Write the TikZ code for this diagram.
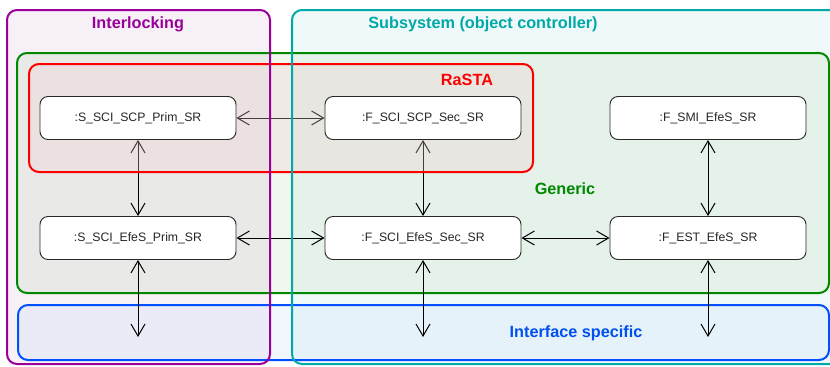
\documentclass[tikz,border=0pt]{standalone}
\usepackage{fontspec}
\setmainfont{Liberation Sans}
\usetikzlibrary{arrows.meta}

\definecolor{ilkline}{RGB}{153,0,153}
\definecolor{ilkfill}{RGB}{247,240,247}
\definecolor{subline}{RGB}{0,168,168}
\definecolor{subfill}{RGB}{240,249,249}
\definecolor{genline}{RGB}{0,136,0}
\definecolor{genfill}{RGB}{180,214,174}
\definecolor{rasline}{RGB}{255,0,0}
\definecolor{rasfill}{RGB}{238,205,207}
\definecolor{ifcline}{RGB}{0,80,255}
\definecolor{ifcfill}{RGB}{190,214,249}
\definecolor{ifctext}{RGB}{0,80,239}
\definecolor{nodeline}{RGB}{40,40,40}

\pgfdeclarelayer{fills}
\pgfdeclarelayer{links}
\pgfdeclarelayer{tint}
\pgfdeclarelayer{frames}
\pgfsetlayers{fills,links,tint,frames,main}

\tikzset{
  srbox/.style={draw=nodeline, line width=0.9bp, fill=white, rounded corners=8bp,
    minimum width=196bp, minimum height=43bp, inner sep=0pt,
    font=\fontsize{12.3}{14}\selectfont, text=black!85},
  frame/.style={line width=2bp, rounded corners=10bp},
  grouplabel/.style={font=\fontsize{16.3}{18}\selectfont\bfseries, inner sep=0pt},
  link/.style={line width=1bp, {Straight Barb[length=12bp,width=14bp]}-{Straight Barb[length=12bp,width=14bp]}}
}

\begin{document}
\begin{tikzpicture}[x=1bp,y=-1bp]
\useasboundingbox (0,0) rectangle (830,366);

% outer areas
\begin{pgfonlayer}{fills}
  \fill[ilkfill, rounded corners=10bp] (7,10) rectangle (270,364);
  \fill[subfill, rounded corners=10bp] (292,10) rectangle (845,364);
  \draw[frame, draw=genline, fill=genfill, fill opacity=0.2] (17,53) rectangle (829,293);
  \draw[frame, draw=ifcline, fill=ifcfill, fill opacity=0.2] (18,305) rectangle (829,360);
\end{pgfonlayer}

% RaSTA area on top of the links
\begin{pgfonlayer}{tint}
  \draw[frame, draw=rasline, fill=rasfill, fill opacity=0.3] (29,64) rectangle (533,172);
\end{pgfonlayer}

% outer frames
\begin{pgfonlayer}{frames}
  \draw[frame, draw=ilkline] (7,10) rectangle (270,364);
  \draw[frame, draw=subline] (292,10) rectangle (845,364);
\end{pgfonlayer}

% group labels
\node[grouplabel, text=ilkline] (lilk) at (138,24) {Interlocking};
\node[grouplabel, text=subline] (lsub) at (483,24) {Subsystem (object controller)};
\node[grouplabel, text=rasline] (lras) at (467,80) {RaSTA};
\node[grouplabel, text=genline] (lgen) at (565,189) {Generic};
\node[grouplabel, text=ifctext] (lifc) at (576,333) {Interface specific};

% state machines
\node[srbox] (n1) at (138,118) {:S\_SCI\_SCP\_Prim\_SR};
\node[srbox] (n2) at (423,118) {:F\_SCI\_SCP\_Sec\_SR};
\node[srbox] (n3) at (708,118) {:F\_SMI\_EfeS\_SR};
\node[srbox] (n4) at (138,238) {:S\_SCI\_EfeS\_Prim\_SR};
\node[srbox] (n5) at (423,238) {:F\_SCI\_EfeS\_Sec\_SR};
\node[srbox] (n6) at (708,238) {:F\_EST\_EfeS\_SR};

\coordinate (i4) at (138,337);
\coordinate (i5) at (423,337);
\coordinate (i6) at (708,337);

\begin{pgfonlayer}{links}
  \draw[link] (n1.east) -- (n2.west);
  \draw[link] (n1.south) -- (n4.north);
  \draw[link] (n2.south) -- (n5.north);
  \draw[link] (n3.south) -- (n6.north);
  \draw[link] (n4.east) -- (n5.west);
  \draw[link] (n5.east) -- (n6.west);
  \draw[link] (n4.south) -- (i4);
  \draw[link] (n5.south) -- (i5);
  \draw[link] (n6.south) -- (i6);
\end{pgfonlayer}
\end{tikzpicture}
\end{document}
